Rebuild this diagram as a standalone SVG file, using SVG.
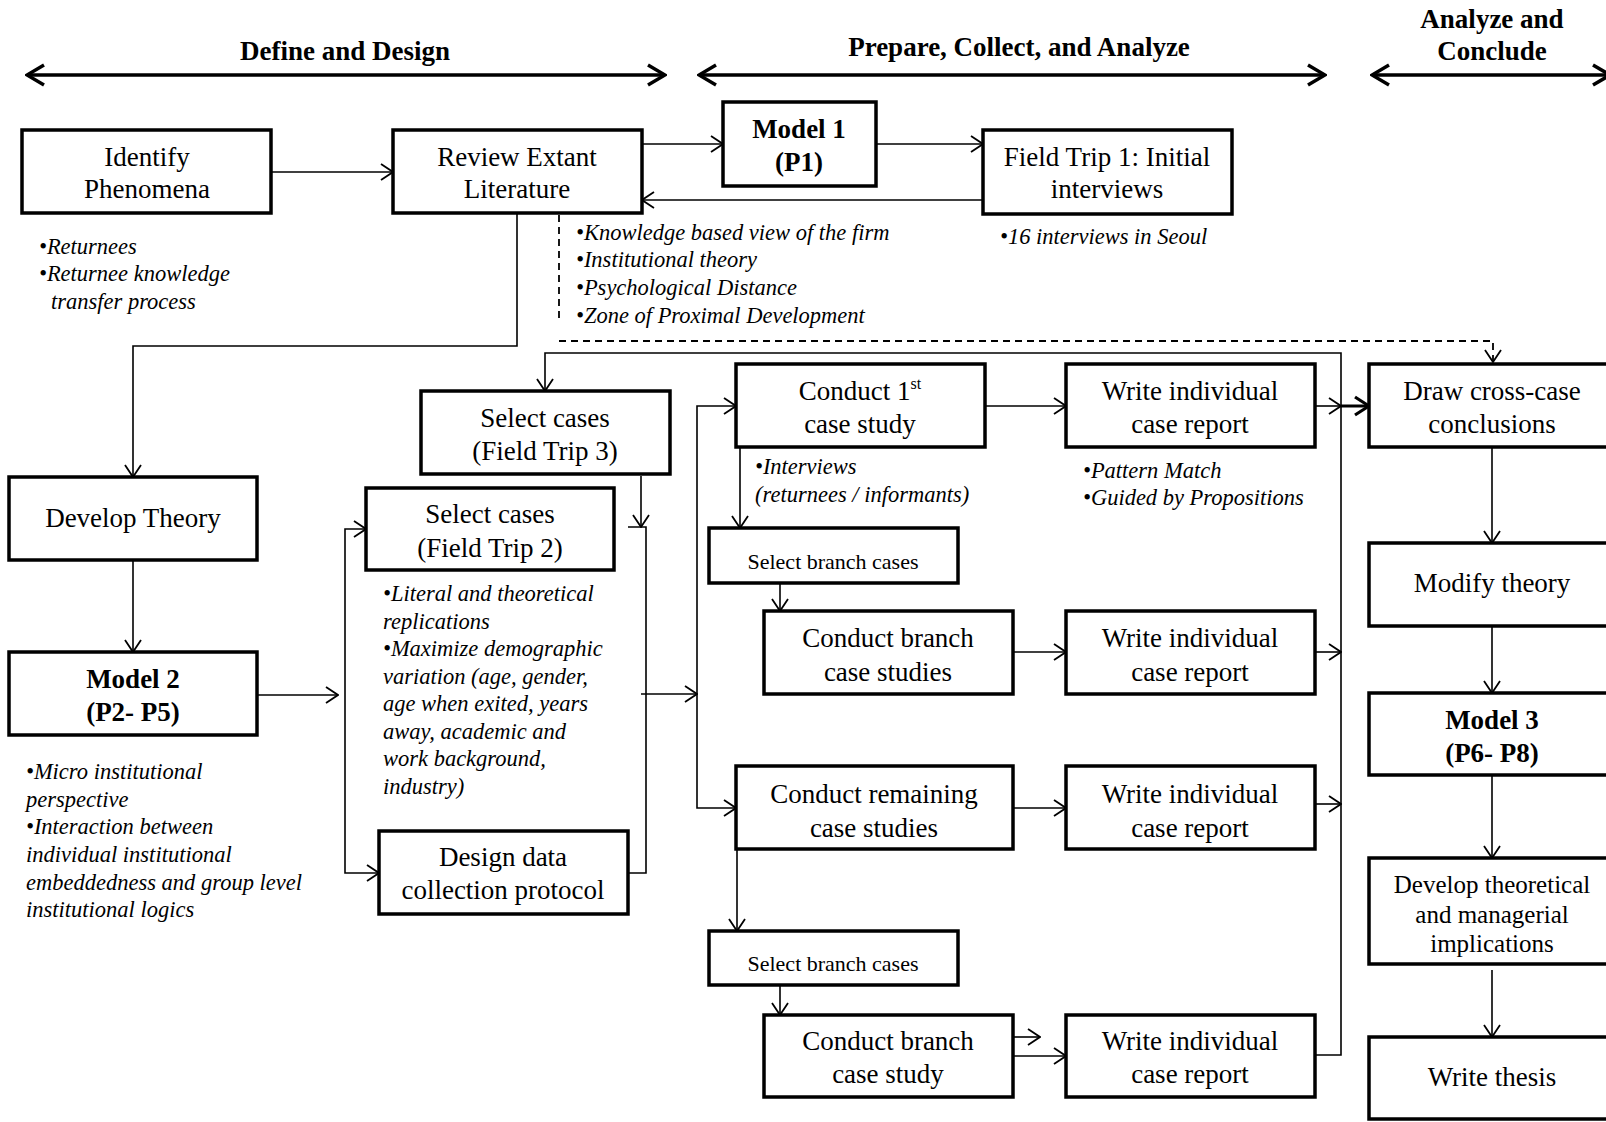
<svg xmlns="http://www.w3.org/2000/svg" width="1606" height="1122" viewBox="0 0 1606 1122">
<style>
.box{fill:#fff;stroke:#000;stroke-width:3.5}
.t{font-family:"Liberation Serif","Times New Roman",serif;font-size:27px;text-anchor:middle;fill:#000}
.b{font-weight:bold}
.sm{font-size:22px}
.md{font-size:25px}
.n{font-family:"Liberation Serif","Times New Roman",serif;font-size:22.5px;font-style:italic;fill:#000}
.c{fill:none;stroke:#000;stroke-width:1.6}
.h{fill:none;stroke:#000;stroke-width:3.5}
.k{fill:none;stroke:#000;stroke-width:3}
.d{fill:none;stroke:#000;stroke-width:1.8;stroke-dasharray:7 5}
</style>
<defs>
<marker id="a" markerUnits="userSpaceOnUse" viewBox="0 0 14 18" markerWidth="14" markerHeight="18" refX="13" refY="9" orient="auto-start-reverse"><path d="M1,1 L13,9 L1,17" fill="none" stroke="#000" stroke-width="1.8"/></marker>
<marker id="ah" markerUnits="userSpaceOnUse" viewBox="0 0 22 26" markerWidth="22" markerHeight="26" refX="20" refY="13" orient="auto-start-reverse"><path d="M3,3 L20,13 L3,23" fill="none" stroke="#000" stroke-width="3.5"/></marker>
<marker id="ab" markerUnits="userSpaceOnUse" viewBox="0 0 18 22" markerWidth="18" markerHeight="22" refX="16" refY="11" orient="auto-start-reverse"><path d="M2,2 L16,11 L2,20" fill="none" stroke="#000" stroke-width="3.2"/></marker>
</defs>
<rect width="1606" height="1122" fill="#fff"/>

<g id="headers">
<text class="t b" x="345" y="60">Define and Design</text>
<text class="t b" x="1019" y="56">Prepare, Collect, and Analyze</text>
<text class="t b" x="1492" y="28">Analyze and</text>
<text class="t b" x="1492" y="60">Conclude</text>
</g>

<g id="connectors">
<path class="h" d="M27,75 H665" marker-start="url(#ah)" marker-end="url(#ah)"/>
<path class="h" d="M699,75 H1325" marker-start="url(#ah)" marker-end="url(#ah)"/>
<path class="h" d="M1372,75 H1610" marker-start="url(#ah)" marker-end="url(#ah)"/>
<path class="c" d="M271,172 H393" marker-end="url(#a)"/>
<path class="c" d="M642,144 H723" marker-end="url(#a)"/>
<path class="c" d="M876,144 H983" marker-end="url(#a)"/>
<path class="c" d="M983,200 H642" marker-end="url(#a)"/>
<path class="c" d="M517,213 V346 H133 V477" marker-end="url(#a)"/>
<path class="d" d="M559,215 V320"/>
<path class="d" d="M559,341 H1493 V362" marker-end="url(#a)"/>
<path class="c" d="M133,560 V652" marker-end="url(#a)"/>
<path class="c" d="M257,695 H338" marker-end="url(#a)"/>
<path class="c" d="M366,529 H345 V873 H379" marker-start="url(#a)" marker-end="url(#a)"/>
<path class="c" d="M641,476 V527" marker-end="url(#a)"/>
<path class="c" d="M628,527 H646 V873 H628"/>
<path class="c" d="M641,694 H697" marker-end="url(#a)"/>
<path class="c" d="M736,406 H697 V808 H736" marker-start="url(#a)" marker-end="url(#a)"/>
<path class="c" d="M985,406 H1066" marker-end="url(#a)"/>
<path class="c" d="M1315,406 H1341" marker-end="url(#a)"/>
<path class="k" d="M1341,406 H1369" marker-end="url(#ab)"/>
<path class="c" d="M545,391 V353 H1341 V1055 H1315" marker-start="url(#a)"/>
<path class="c" d="M740,447 V528" marker-end="url(#a)"/>
<path class="c" d="M780,583 V611" marker-end="url(#a)"/>
<path class="c" d="M1013,652 H1066" marker-end="url(#a)"/>
<path class="c" d="M1315,652 H1341" marker-end="url(#a)"/>
<path class="c" d="M1013,808 H1066" marker-end="url(#a)"/>
<path class="c" d="M1315,804 H1341" marker-end="url(#a)"/>
<path class="c" d="M737,849 V931" marker-end="url(#a)"/>
<path class="c" d="M780,985 V1015" marker-end="url(#a)"/>
<path class="c" d="M1013,1037 H1040" marker-end="url(#a)"/>
<path class="c" d="M1013,1056 H1066" marker-end="url(#a)"/>
<path class="c" d="M1492,447 V543" marker-end="url(#a)"/>
<path class="c" d="M1492,626 V693" marker-end="url(#a)"/>
<path class="c" d="M1492,775 V858" marker-end="url(#a)"/>
<path class="c" d="M1492,970 V1037" marker-end="url(#a)"/>
</g>

<g id="identify-phenomena">
<rect class="box" x="22" y="130" width="249" height="83"/>
<text class="t" x="147" y="166">Identify</text>
<text class="t" x="147" y="198">Phenomena</text>
</g>
<g id="identify-notes">
<text class="n" x="39" y="254">•Returnees</text>
<text class="n" x="39" y="281">•Returnee knowledge</text>
<text class="n" x="51" y="309">transfer process</text>
</g>

<g id="review-literature">
<rect class="box" x="393" y="130" width="249" height="83"/>
<text class="t" x="517" y="166">Review Extant</text>
<text class="t" x="517" y="198">Literature</text>
</g>
<g id="review-notes">
<text class="n" x="576" y="240">•Knowledge based view of the firm</text>
<text class="n" x="576" y="267">•Institutional theory</text>
<text class="n" x="576" y="295">•Psychological Distance</text>
<text class="n" x="576" y="323">•Zone of Proximal Development</text>
</g>

<g id="model-1">
<rect class="box" x="723" y="102" width="153" height="84"/>
<text class="t b" x="799" y="138">Model 1</text>
<text class="t b" x="799" y="171">(P1)</text>
</g>

<g id="field-trip-1">
<rect class="box" x="983" y="130" width="249" height="84"/>
<text class="t" x="1107" y="166">Field Trip 1: Initial</text>
<text class="t" x="1107" y="198">interviews</text>
</g>
<g id="field-trip-1-notes">
<text class="n" x="1000" y="244">•16 interviews in Seoul</text>
</g>

<g id="develop-theory">
<rect class="box" x="9" y="477" width="248" height="83"/>
<text class="t" x="133" y="527">Develop Theory</text>
</g>

<g id="model-2">
<rect class="box" x="9" y="652" width="248" height="83"/>
<text class="t b" x="133" y="688">Model 2</text>
<text class="t b" x="133" y="721">(P2- P5)</text>
</g>
<g id="model-2-notes">
<text class="n" x="26" y="779">•Micro institutional</text>
<text class="n" x="26" y="807">perspective</text>
<text class="n" x="26" y="834">•Interaction between</text>
<text class="n" x="26" y="862">individual institutional</text>
<text class="n" x="26" y="890">embeddedness and group level</text>
<text class="n" x="26" y="917">institutional logics</text>
</g>

<g id="select-cases-ft3">
<rect class="box" x="421" y="391" width="249" height="83"/>
<text class="t" x="545" y="427">Select cases</text>
<text class="t" x="545" y="460">(Field Trip 3)</text>
</g>

<g id="select-cases-ft2">
<rect class="box" x="366" y="488" width="248" height="82"/>
<text class="t" x="490" y="523">Select cases</text>
<text class="t" x="490" y="557">(Field Trip 2)</text>
</g>
<g id="select-cases-ft2-notes">
<text class="n" x="383" y="601">•Literal and theoretical</text>
<text class="n" x="383" y="628.5">replications</text>
<text class="n" x="383" y="656">•Maximize demographic</text>
<text class="n" x="383" y="683.5">variation (age, gender,</text>
<text class="n" x="383" y="711">age when exited, years</text>
<text class="n" x="383" y="738.5">away, academic and</text>
<text class="n" x="383" y="766">work background,</text>
<text class="n" x="383" y="793.5">industry)</text>
</g>

<g id="design-protocol">
<rect class="box" x="379" y="831" width="249" height="83"/>
<text class="t" x="503" y="866">Design data</text>
<text class="t" x="503" y="899">collection protocol</text>
</g>

<g id="conduct-first-case">
<rect class="box" x="736" y="364" width="249" height="83"/>
<text class="t" x="860" y="400">Conduct 1<tspan font-size="16" dy="-11">st</tspan></text>
<text class="t" x="860" y="433">case study</text>
</g>
<g id="conduct-first-notes">
<text class="n" x="755" y="474">•Interviews</text>
<text class="n" x="755" y="502">(returnees / informants)</text>
</g>

<g id="write-report-1">
<rect class="box" x="1066" y="364" width="249" height="83"/>
<text class="t" x="1190" y="400">Write individual</text>
<text class="t" x="1190" y="433">case report</text>
</g>
<g id="write-report-1-notes">
<text class="n" x="1083" y="478">•Pattern Match</text>
<text class="n" x="1083" y="505">•Guided by Propositions</text>
</g>

<g id="select-branch-1">
<rect class="box" x="709" y="528" width="249" height="55"/>
<text class="t sm" x="833" y="569">Select branch cases</text>
</g>

<g id="conduct-branch-studies">
<rect class="box" x="764" y="611" width="249" height="83"/>
<text class="t" x="888" y="647">Conduct branch</text>
<text class="t" x="888" y="681">case studies</text>
</g>

<g id="write-report-2">
<rect class="box" x="1066" y="611" width="249" height="83"/>
<text class="t" x="1190" y="647">Write individual</text>
<text class="t" x="1190" y="681">case report</text>
</g>

<g id="conduct-remaining">
<rect class="box" x="736" y="766" width="277" height="83"/>
<text class="t" x="874" y="803">Conduct remaining</text>
<text class="t" x="874" y="837">case studies</text>
</g>

<g id="write-report-3">
<rect class="box" x="1066" y="766" width="249" height="83"/>
<text class="t" x="1190" y="803">Write individual</text>
<text class="t" x="1190" y="837">case report</text>
</g>

<g id="select-branch-2">
<rect class="box" x="709" y="931" width="249" height="54"/>
<text class="t sm" x="833" y="971">Select branch cases</text>
</g>

<g id="conduct-branch-study">
<rect class="box" x="764" y="1015" width="249" height="82"/>
<text class="t" x="888" y="1050">Conduct branch</text>
<text class="t" x="888" y="1083">case study</text>
</g>

<g id="write-report-4">
<rect class="box" x="1066" y="1015" width="249" height="82"/>
<text class="t" x="1190" y="1050">Write individual</text>
<text class="t" x="1190" y="1083">case report</text>
</g>

<g id="draw-conclusions">
<rect class="box" x="1369" y="364" width="252" height="83"/>
<text class="t" x="1492" y="400">Draw cross-case</text>
<text class="t" x="1492" y="433">conclusions</text>
</g>

<g id="modify-theory">
<rect class="box" x="1369" y="543" width="252" height="83"/>
<text class="t" x="1492" y="592">Modify theory</text>
</g>

<g id="model-3">
<rect class="box" x="1369" y="693" width="252" height="82"/>
<text class="t b" x="1492" y="729">Model 3</text>
<text class="t b" x="1492" y="762">(P6- P8)</text>
</g>

<g id="develop-implications">
<rect class="box" x="1369" y="858" width="252" height="106"/>
<text class="t md" x="1492" y="893">Develop theoretical</text>
<text class="t md" x="1492" y="923">and managerial</text>
<text class="t md" x="1492" y="952">implications</text>
</g>

<g id="write-thesis">
<rect class="box" x="1369" y="1037" width="252" height="82"/>
<text class="t" x="1492" y="1086">Write thesis</text>
</g>
</svg>
